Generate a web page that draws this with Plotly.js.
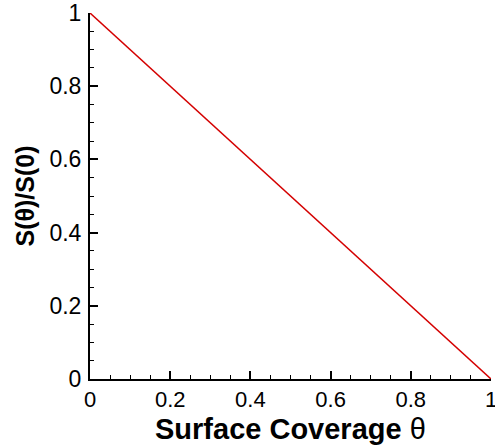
<!DOCTYPE html>
<html><head><meta charset="utf-8">
<script src="https://cdn.plot.ly/plotly-3.0.1.min.js"></script>
<style>html,body{margin:0;padding:0;background:#fff;}#chart{width:495px;height:448px;}</style>
</head><body><div id="chart"></div>
<script>
const coverage = [0, 1];
const ratio = [1, 0];
const tickVals = [0, 0.2, 0.4, 0.6, 0.8, 1];
const tickText = ['0', '0.2', '0.4', '0.6', '0.8', '1'];
const xTitle = '<b>Surface Coverage</b> θ';
const yTitle = '<b>S(θ)/S(0)</b>';

const FONT = 'Liberation Sans, Arial, sans-serif';
const axisCommon = {
  range: [0, 1], showgrid: false, zeroline: false, showline: true,
  linecolor: '#000', linewidth: 2, ticks: 'inside', ticklen: 8, tickwidth: 2,
  tickcolor: '#000', tickvals: tickVals, ticktext: tickText,
  ticklabeloverflow: 'allow',
  tickfont: {family: FONT, size: 23, color: '#000'},
  minor: {ticks: 'inside', ticklen: 4, tickwidth: 1, tickcolor: '#000', dtick: 0.05, showgrid: false}
};

Plotly.newPlot('chart', [{
  x: coverage, y: ratio, type: 'scatter', mode: 'lines',
  line: {color: '#d40000', width: 1.5}, cliponaxis: false
}], {
  width: 495, height: 448,
  margin: {l: 90, r: 4, t: 13, b: 69},
  paper_bgcolor: '#fff', plot_bgcolor: '#fff',
  showlegend: false,
  xaxis: Object.assign({}, axisCommon, {
    ticklabelstandoff: 0,
    tickfont: {family: FONT, size: 22, color: '#000'}
  }),
  yaxis: Object.assign({}, axisCommon, {
    ticklabelstandoff: 2,
    title: {text: yTitle, standoff: 8,
      font: {family: FONT, size: 25, color: '#000'}}
  }),
  annotations: [{
    text: xTitle, xref: 'paper', yref: 'paper', x: 0.5, y: -0.137,
    xanchor: 'center', yanchor: 'middle', showarrow: false, borderpad: 0,
    font: {family: FONT, size: 29, color: '#000'}
  }]
}, {staticPlot: true});
</script></body></html>
